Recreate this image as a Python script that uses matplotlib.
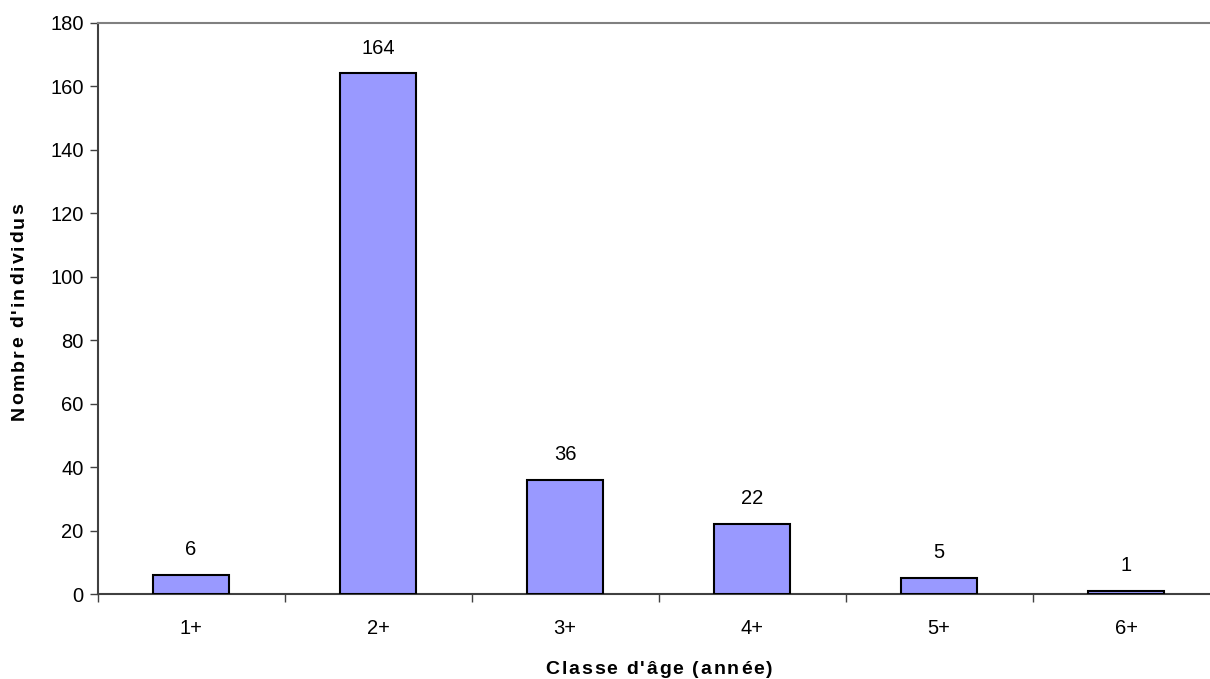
import matplotlib
matplotlib.use("Agg")
import matplotlib.pyplot as plt

categories = ["1+", "2+", "3+", "4+", "5+", "6+"]
values = [6, 164, 36, 22, 5, 1]
yticks = [0, 20, 40, 60, 80, 100, 120, 140, 160, 180]
xlabel = "Classe d'âge (année)"
ylabel = "Nombre d'individus"

plt.rcParams['font.family'] = ['Liberation Sans', 'DejaVu Sans']

fig = plt.figure(figsize=(12.10, 6.79), dpi=100)
W, H = 1210, 679
left, right, top, bottom = 97.5, 1219.5, 22.7, 594
ax = fig.add_axes([left / W, 1 - bottom / H, (right - left) / W, (bottom - top) / H])

x = list(range(len(categories)))
ax.bar(x, values, width=0.405, color="#9999FF", edgecolor="black", linewidth=1.5, zorder=3)
for xi, v in zip(x, values):
    ax.text(xi, v + 5, str(v), ha="center", va="bottom", fontsize=14.5)

ax.set_xlim(-0.5, len(categories) - 0.5)
ax.set_ylim(0, 180)
ax.set_yticks(yticks)
ax.set_yticklabels([str(t) for t in yticks], fontsize=14.5)
ax.set_xticks(x)
ax.set_xticklabels(categories, fontsize=14.5)
ax.tick_params(axis='x', length=0, pad=18)
ax.set_xticks([i + 0.5 for i in range(len(categories) - 1)] + [-0.5], minor=True)
ax.tick_params(axis='x', which='minor', length=6, width=1, color="#404040", direction='out')
ax.tick_params(axis='y', length=6, width=1, color="#404040", direction='out', pad=4)

ax.spines['right'].set_visible(False)
ax.spines['top'].set_color("#808080")
ax.spines['top'].set_linewidth(1.5)
ax.spines['left'].set_color("#404040")
ax.spines['left'].set_linewidth(1.5)
ax.spines['bottom'].set_color("#404040")
ax.spines['bottom'].set_linewidth(1.5)

# letter-spaced bold axis titles
renderer = fig.canvas.get_renderer()


def spaced_text(s, cx, cy, total, vertical=False, size=13):
    widths = []
    for ch in s:
        t = fig.text(0, 0, ch, fontsize=size, fontweight='bold')
        bb = t.get_window_extent(renderer)
        widths.append(bb.width)
        t.remove()
    sp = (total - sum(widths)) / (len(s) - 1)
    pos = -total / 2
    for ch, w in zip(s, widths):
        c = pos + w / 2
        if vertical:
            fig.text(cx / W, 1 - (cy - c) / H, ch, fontsize=size, fontweight='bold',
                     rotation=90, ha='center', va='center')
        else:
            fig.text((cx + c) / W, 1 - cy / H, ch, fontsize=size, fontweight='bold',
                     ha='center', va='baseline')
        pos += w + sp


spaced_text(xlabel, 659, 674, 227, size=14)
spaced_text(ylabel, 19, 312, 217, vertical=True, size=14)

fig.savefig("out.png", dpi=100)
